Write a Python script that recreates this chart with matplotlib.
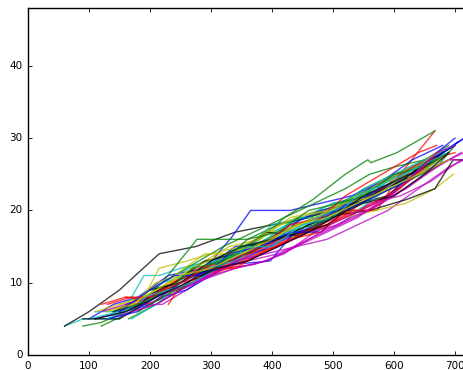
import matplotlib
matplotlib.use("Agg")
import matplotlib.pyplot as plt

plt.style.use("classic")

# each line: (x values, y values); colours follow the classic b,g,r,c,m,y,k cycle
l00 = ([100,140,180,230,290,340,400,450,510,560,620,680,705], [5,7,8,11,12,15,15.5,19,20,23,24,28,29.5])
l01 = ([90,120,160,200,240,290,340,390,440,500,550,600,650,690], [4,4.5,6,8,10,12,14,16,18,20,22,24,26,28])
l02 = ([120,160,190,230,270,310,360,410,460,520,570,620,670], [7,8,7.5,10,11,12,14,15,17,19,21,24,27])
l03 = ([60,90,150,190,215,250,300,350,400,450,500,550,600,650,690], [4,5,5,11,11,12,13,15,17,19,21,22,24,27,28])
l04 = ([130,170,210,250,300,340,390,440,490,540,590,640,690,715], [5,6,7,9,11,12,13,15,16,18,20,23,26,27])
l05 = ([150,190,215,260,300,350,400,450,500,550,600,650,700], [7,8,12,13,14,15,17,18,20,23,25,27,29])
l06 = ([60,100,150,215,275,340,400,460,520,580,640,690], [4,6,9,14,15,17,18,19,21,23,25,28])
l07 = ([110,160,200,250,298,334,365,430,480,530,580,630,680,715], [5,6,7,10,12.7,16.3,20,20,21,22,24,26,28,30])
l08 = ([120,170,220,277,360,410,460,510,560,610,660,700], [4,6,10,16,16,18,19,21,23,25,27,29])
l09 = ([150,200,250,300,350,400,450,490,533,572,610,667], [6,8,10,11,13,15,17,18,20,20,25,31])
l10 = ([100,150,200,240,290,340,390,440,490,540,590,640,690], [5,6,9,11,13,13,16,19,19,21,24,25,28])
l11 = ([140,180,220,260,310,360,410,460,510,560,610,660,710], [6,7,7,9,12,13,14,16,18,21,22,24,27])
l12 = ([120,170,210,260,310,360,410,470,520,570,620,667,697], [6,7,9,11,13,14,16,17,19,20,21,23,25])
l13 = ([90,150,200,250,300,360,410,460,511,560,620,667,697,730], [5,5,7.5,10,12,14,16,18,19.4,20,21.5,23,27,27])
l14 = ([130,180,220,260,300,330,397,433,480,530,580,630,680], [5,6,8,9,11,12.5,13,16.6,19,21,24,27,29])
l15 = ([165,210,250,290,330,380,420,467,520,557,562,605,667], [5,7,9,12,14,16,19,21.5,25,27,26.6,28,31])
l16 = ([230,246,290,340,390,440,490,540,590,640,690], [7,9,11,13,15,17,18,20,22,25,27])
l17 = ([110,160,210,260,310,350,400,450,500,550,600,650,700], [6,6,8,11,13,14,18,19,21,21,24,27,29])
l18 = ([150,190,230,270,320,370,420,470,520,570,620,670,710], [6,7,8,10,12,12.5,14,17,19,21,23,26,28])
l19 = ([170,210,250,290,330,380,430,480,530,580,630,680], [7,10,11,13,15,16,19,20,21,24,26,28])
l20 = ([140,190,240,290,340,390,440,490,540,590,640,690], [6,8,10,13,14,17,16.5,18,21,22,26,28])
l21 = ([160,200,240,280,330,380,430,480,530,580,630,680,715], [7,8,9,11,13,15,18,20,21,23,25,28,30])
l22 = ([200,240,280,320,370,420,470,520,560,600,650,690], [9,11,13,15,17,19,21,23,25,26,27,29])
l23 = ([130,170,200,240,280,330,380,430,480,530,580,630,675], [7,8,7,9,11,12,14,16,18,20,23,26,28])
l24 = ([170,210,250,290,340,390,440,490,540,590,640,690], [5,7,10,12,13,16,17,20,20,23,25,27])
l25 = ([120,160,200,240,290,340,390,440,490,540,590,640,690,715], [6,7,8,9,10.5,12,13,15,17,19,22,25,27,28])
l26 = ([160,200,240,290,340,390,440,490,540,590,640,690], [6,9,11,14,14,17,19,20,22,24,25,28])
l27 = ([180,220,260,310,360,410,460,510,560,610,660,700], [7,9,11,12,15,16,18,20,22,24,27,29])
l28 = ([140,190,230,270,320,370,420,470,520,570,620,670,700], [6,7,9,11,12,14,16,18,20,22,25,28,30])
l29 = ([180,220,270,320,370,420,470,520,570,620,670,700], [6,8,10,13,15,17,18,20,22,24,26,29])
l30 = ([200,240,280,330,380,430,480,520,560,600,640,670], [8,10,12,13,15,18,19,22,24,26,28,29])
l31 = ([130,180,220,260,300,350,400,450,500,550,600,650,700], [5,7,10,11,12,15,16,18,20,23,25,27,29])
l32 = ([190,230,270,310,360,410,460,510,560,600,650,690,715], [8,9,10,12,13,15,17,18,20,22,25,27,27])
l33 = ([110,150,190,230,270,320,370,420,470,520,570,620,670], [6,7,8,10,12,14,15,17,19,21,22,25,28])
l34 = ([200,250,300,350,400,450,500,550,600,650,680], [9,10,13,15,16,17,19,22,24,26,28])
l35 = ([150,200,240,290,330,380,430,480,520,570,620,660,700], [6,9,11,11,14,15,17,17,20,22,24,27,29])
l36 = ([140,180,230,270,320,360,410,460,510,550,600,650,690], [6,7,9,12,13,16,17,20,21,22,25,26,28])
l37 = ([160,200,250,290,340,380,430,480,520,560,610,660,700], [8,8,10,12,12,14,16,17,20,20,23,27,28])
l38 = ([190,230,270,310,360,400,450,500,540,590,640,690], [8,9,10,12,15,15,18,19,22,24,26,28])
l39 = ([170,210,250,300,340,390,440,480,530,580,620,670,700], [6,7,9,11,13,14,15,17,19,21,24,28,29])
l40 = ([130,170,210,250,300,350,400,440,490,540,590,640,690], [6,7,9,11,12,14,16,18,19,21,23,25,27])
l41 = ([110,160,210,260,310,360,410,460,500,550,600,650,690], [5,6,8,10,12,13,15,17,19,21,22,25,28])

lines = [l00, l01, l02, l03, l04, l05, l06, l07, l08, l09, l10, l11, l12, l13, l14,
         l15, l16, l17, l18, l19, l20, l21, l22, l23, l24, l25, l26, l27, l28, l29,
         l30, l31, l32, l33, l34, l35, l36, l37, l38, l39, l40, l41]

x_ticks = [0, 100, 200, 300, 400, 500, 600, 700]
y_ticks = [0, 10, 20, 30, 40]

fig = plt.figure(figsize=(4.64, 3.70), dpi=100)
fig.patch.set_facecolor("white")
ax = fig.add_axes([28/464, 15/370, 0.98, 347/370])
for xs, ys in lines:
    ax.plot(xs, ys, lw=1.0, alpha=0.75)

x_right = (464*(28/464 + 0.98) - 28) / 0.61
ax.set_xlim(0, x_right)
ax.set_ylim(0, 48)
ax.set_xticks(x_ticks)
ax.set_yticks(y_ticks)
ax.tick_params(labelsize=7.5, length=3, width=0.6)
for s in ax.spines.values():
    s.set_linewidth(1.0)

fig.savefig("out.png", dpi=100, facecolor="white")
